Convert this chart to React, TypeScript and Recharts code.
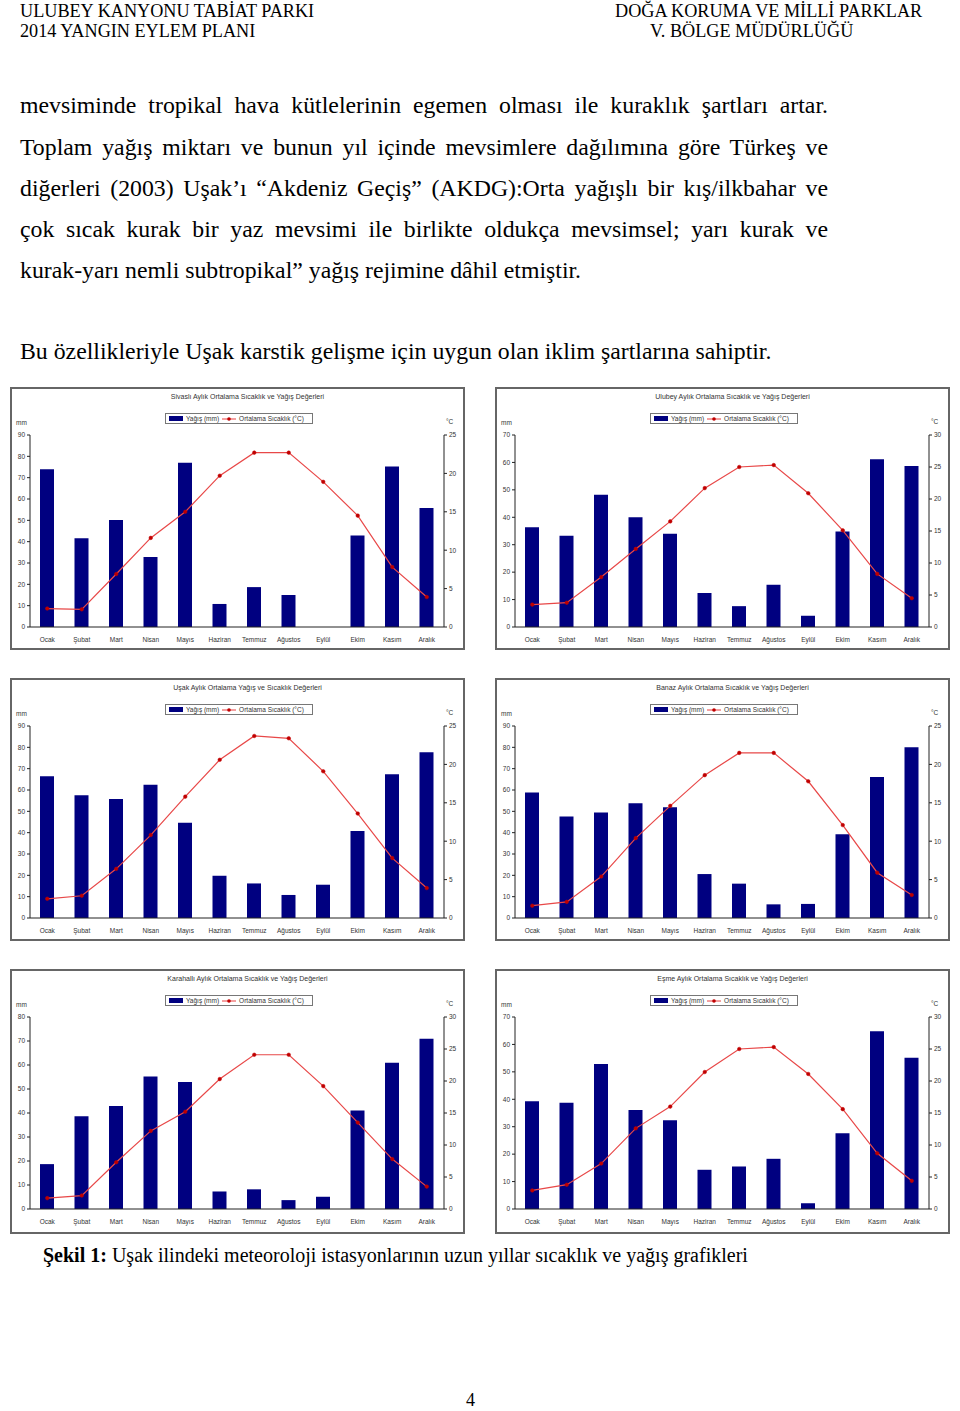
import React from 'react';
import { Bar, ComposedChart, Line, XAxis, YAxis } from 'recharts';

const months = ['Ocak', 'Şubat', 'Mart', 'Nisan', 'Mayıs', 'Haziran', 'Temmuz', 'Ağustos', 'Eylül', 'Ekim', 'Kasım', 'Aralık'];

const sivasliRain = [74, 41.6, 50.2, 32.8, 77, 10.8, 18.7, 15, 0, 42.9, 75.2, 55.8];
const sivasliTemp = [2.4, 2.3, 6.9, 11.6, 15.0, 19.7, 22.7, 22.7, 18.9, 14.5, 7.8, 3.9];

const ulubeyRain = [36.4, 33.3, 48.2, 40, 34, 12.4, 7.6, 15.4, 4.1, 34.8, 61.2, 58.7];
const ulubeyTemp = [3.5, 3.8, 7.8, 12.2, 16.5, 21.7, 25.0, 25.3, 20.9, 15.1, 8.3, 4.5];

const usakRain = [66.5, 57.5, 55.8, 62.5, 44.7, 19.8, 16.2, 10.8, 15.6, 40.8, 67.4, 77.7];
const usakTemp = [2.5, 2.9, 6.4, 10.8, 15.8, 20.6, 23.7, 23.4, 19.1, 13.6, 7.8, 3.9];

const banazRain = [58.8, 47.6, 49.5, 53.8, 51.9, 20.6, 16.1, 6.4, 6.6, 39.2, 66.1, 80];
const banazTemp = [1.6, 2.1, 5.4, 10.4, 14.6, 18.6, 21.5, 21.5, 17.8, 12.1, 5.9, 3.0];

const karahalliRain = [18.7, 38.6, 42.9, 55.2, 52.9, 7.3, 8.2, 3.7, 5.1, 41, 60.9, 70.9];
const karahalliTemp = [1.7, 2.1, 7.3, 12.2, 15.2, 20.3, 24.1, 24.1, 19.2, 13.5, 7.8, 3.5];

const esmeRain = [39.3, 38.7, 52.9, 36.1, 32.4, 14.3, 15.5, 18.3, 2.1, 27.6, 64.8, 55.1];
const esmeTemp = [2.9, 3.8, 7.1, 12.6, 16.0, 21.4, 25.0, 25.3, 21.1, 15.6, 8.7, 4.4];

const ticks10to70 = [0, 10, 20, 30, 40, 50, 60, 70];
const ticks10to80 = [0, 10, 20, 30, 40, 50, 60, 70, 80];
const ticks10to90 = [0, 10, 20, 30, 40, 50, 60, 70, 80, 90];
const ticks5to25 = [0, 5, 10, 15, 20, 25];
const ticks5to30 = [0, 5, 10, 15, 20, 25, 30];

const serif = '"Liberation Serif", "Times New Roman", serif';
const sans = '"Liberation Sans", Arial, sans-serif';

type StationProps = {
  left: number;
  top: number;
  height?: number;
  title: string;
  rain: number[];
  temp: number[];
  rainTicks: number[];
  tempTicks: number[];
};

const Station = ({ left, top, height = 263, title, rain, temp, rainTicks, tempTicks }: StationProps) => {
  const data = months.map((m, i) => ({ month: m, rain: rain[i], temp: temp[i] }));
  const tick = { fontSize: 6.5, fill: '#333', fontFamily: sans };
  return (
    <div style={{ position: 'absolute', left, top, width: 455, height }}>
      <div
        style={{
          position: 'absolute',
          left: 0,
          top: 0,
          width: 455,
          height,
          boxSizing: 'border-box',
          border: '2px solid #666',
        }}
      />
      <div style={{ position: 'absolute', left: 0, top: 6, width: 475, textAlign: 'center', fontFamily: sans, fontSize: 7, color: '#333' }}>
        {title}
      </div>
      <div
        style={{
          position: 'absolute',
          left: 155,
          top: 26,
          width: 148,
          height: 11,
          boxSizing: 'border-box',
          border: '1px solid #777',
          fontFamily: sans,
          fontSize: 6.5,
          color: '#333',
          display: 'flex',
          alignItems: 'center',
          gap: 3,
          paddingLeft: 3,
        }}
      >
        <span style={{ display: 'inline-block', width: 14, height: 5, background: '#000080' }} />
        <span>Yağış (mm)</span>
        <svg width={14} height={6}>
          <line x1={0} y1={3} x2={14} y2={3} stroke="#e84040" strokeWidth={1} />
          <circle cx={7} cy={3} r={1.8} fill="#c00000" />
        </svg>
        <span>Ortalama Sıcaklık (°C)</span>
      </div>
      <div style={{ position: 'absolute', left: 6, top: 32, fontFamily: sans, fontSize: 6.5, color: '#333' }}>mm</div>
      <div style={{ position: 'absolute', left: 436, top: 31, fontFamily: sans, fontSize: 6.5, color: '#333' }}>°C</div>
      <div style={{ position: 'absolute', left: 0, top: 0 }}>
        <ComposedChart
          width={455}
          height={height}
          data={data}
          margin={{ top: 48, right: 2, bottom: height - 263 + 5, left: 2 }}
          barSize={14}
        >
          <XAxis
            dataKey="month"
            tick={tick}
            tickLine={false}
            axisLine={{ stroke: '#222' }}
            interval={0}
            height={18}
            tickMargin={4}
          />
          <YAxis
            yAxisId="rain"
            domain={[0, rainTicks[rainTicks.length - 1]]}
            ticks={rainTicks}
            tick={tick}
            tickSize={3}
            tickLine={{ stroke: '#222' }}
            axisLine={{ stroke: '#222' }}
            width={18}
            interval={0}
          />
          <YAxis
            yAxisId="temp"
            orientation="right"
            domain={[0, tempTicks[tempTicks.length - 1]]}
            ticks={tempTicks}
            tick={tick}
            tickSize={3}
            tickLine={{ stroke: '#222' }}
            axisLine={{ stroke: '#222' }}
            width={19}
            interval={0}
          />
          <Bar yAxisId="rain" dataKey="rain" fill="#000080" isAnimationActive={false} />
          <Line
            yAxisId="temp"
            dataKey="temp"
            type="linear"
            stroke="#e84848"
            strokeWidth={1.2}
            dot={{ r: 1.8, fill: '#c00000', stroke: '#c00000', strokeWidth: 0.5 }}
            isAnimationActive={false}
          />
        </ComposedChart>
      </div>
    </div>
  );
};

const bodySize = 23.8;

const justified = (top: number, text: string) => (
  <div
    style={{
      position: 'absolute',
      left: 20,
      top,
      width: 808,
      fontFamily: serif,
      fontSize: bodySize,
      lineHeight: '24px',
      textAlign: 'justify',
      textAlignLast: 'justify',
      whiteSpace: 'nowrap',
    }}
  >
    {text}
  </div>
);

const plain = (top: number, text: string) => (
  <div style={{ position: 'absolute', left: 20, top, fontFamily: serif, fontSize: bodySize, lineHeight: '24px', whiteSpace: 'nowrap' }}>
    {text}
  </div>
);

export default function App() {
  const head = { position: 'absolute' as const, fontFamily: serif, fontSize: 18.2, lineHeight: '20px', whiteSpace: 'nowrap' as const };
  return (
    <div style={{ position: 'absolute', left: 0, top: 0, width: 960, height: 1411, background: '#fff', color: '#000' }}>
      <div style={{ ...head, left: 20, top: 1 }}>ULUBEY KANYONU TABİAT PARKI</div>
      <div style={{ ...head, left: 20, top: 21 }}>2014 YANGIN EYLEM PLANI</div>
      <div style={{ ...head, left: 615, top: 1 }}>DOĞA KORUMA VE MİLLİ PARKLAR</div>
      <div style={{ ...head, left: 650, top: 21 }}>V. BÖLGE MÜDÜRLÜĞÜ</div>

      {justified(93, 'mevsiminde tropikal hava kütlelerinin egemen olması ile kuraklık şartları artar.')}
      {justified(135, 'Toplam yağış miktarı ve bunun yıl içinde mevsimlere dağılımına göre Türkeş ve')}
      {justified(176, 'diğerleri (2003) Uşak’ı “Akdeniz Geçiş” (AKDG):Orta yağışlı bir kış/ilkbahar ve')}
      {justified(217, 'çok sıcak kurak bir yaz mevsimi ile birlikte oldukça mevsimsel; yarı kurak ve')}
      {plain(258, 'kurak-yarı nemli subtropikal” yağış rejimine dâhil etmiştir.')}
      {plain(339, 'Bu özellikleriyle Uşak karstik gelişme için uygun olan iklim şartlarına sahiptir.')}

      <Station left={10} top={387} title="Sivaslı Aylık Ortalama Sıcaklık ve Yağış Değerleri" rain={sivasliRain} temp={sivasliTemp} rainTicks={ticks10to90} tempTicks={ticks5to25} />
      <Station left={495} top={387} title="Ulubey Aylık Ortalama Sıcaklık ve Yağış Değerleri" rain={ulubeyRain} temp={ulubeyTemp} rainTicks={ticks10to70} tempTicks={ticks5to30} />
      <Station left={10} top={678} title="Uşak Aylık Ortalama Yağış ve Sıcaklık Değerleri" rain={usakRain} temp={usakTemp} rainTicks={ticks10to90} tempTicks={ticks5to25} />
      <Station left={495} top={678} title="Banaz Aylık Ortalama Sıcaklık ve Yağış Değerleri" rain={banazRain} temp={banazTemp} rainTicks={ticks10to90} tempTicks={ticks5to25} />
      <Station left={10} top={969} height={265} title="Karahallı Aylık Ortalama Sıcaklık ve Yağış Değerleri" rain={karahalliRain} temp={karahalliTemp} rainTicks={ticks10to80} tempTicks={ticks5to30} />
      <Station left={495} top={969} height={265} title="Eşme Aylık Ortalama Sıcaklık ve Yağış Değerleri" rain={esmeRain} temp={esmeTemp} rainTicks={ticks10to70} tempTicks={ticks5to30} />

      <div style={{ position: 'absolute', left: 43, top: 1245, fontFamily: serif, fontSize: 20, lineHeight: '20px', whiteSpace: 'nowrap' }}>
        <b>Şekil 1:</b> Uşak ilindeki meteoroloji istasyonlarının uzun yıllar sıcaklık ve yağış grafikleri
      </div>
      <div style={{ position: 'absolute', left: 466, top: 1390, fontFamily: serif, fontSize: 18, lineHeight: '20px' }}>4</div>
    </div>
  );
}
